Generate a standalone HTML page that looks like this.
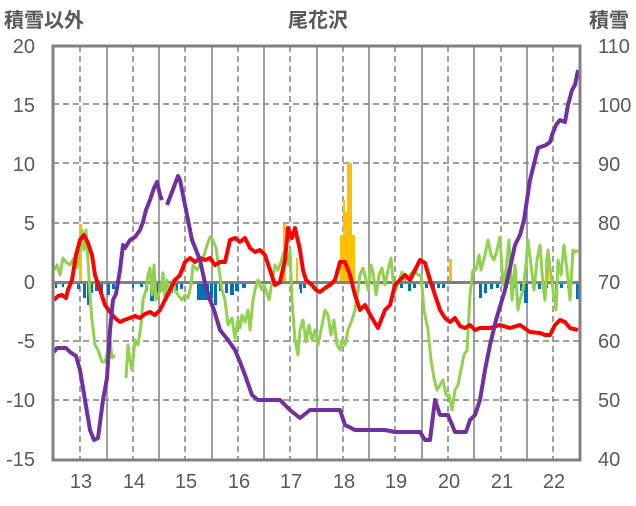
<!DOCTYPE html>
<html><head><meta charset="utf-8"><style>
html,body{margin:0;padding:0;background:#fff;}
svg text{font-family:"Liberation Sans","Noto Sans CJK JP",sans-serif;fill:#595959;}
</style></head><body>
<svg width="636" height="501" viewBox="0 0 636 501" xmlns="http://www.w3.org/2000/svg">
<rect width="636" height="501" fill="#fff"/>
<g stroke="#808080" stroke-width="1.5" stroke-dasharray="6,4">
<line x1="53" x2="580" y1="104" y2="104"/><line x1="53" x2="580" y1="163" y2="163"/><line x1="53" x2="580" y1="223" y2="223"/>
<line x1="53" x2="580" y1="341" y2="341"/><line x1="53" x2="580" y1="400" y2="400"/>
<line x1="80" x2="80" y1="46" y2="460"/><line x1="133" x2="133" y1="46" y2="460"/><line x1="185" x2="185" y1="46" y2="460"/><line x1="238" x2="238" y1="46" y2="460"/><line x1="290" x2="290" y1="46" y2="460"/><line x1="343" x2="343" y1="46" y2="460"/><line x1="395" x2="395" y1="46" y2="460"/><line x1="448" x2="448" y1="46" y2="460"/><line x1="501" x2="501" y1="46" y2="460"/><line x1="553" x2="553" y1="46" y2="460"/>
</g>
<g stroke="#808080" stroke-width="1.5">
<line x1="107" x2="107" y1="46" y2="460"/><line x1="159" x2="159" y1="46" y2="460"/><line x1="212" x2="212" y1="46" y2="460"/><line x1="264" x2="264" y1="46" y2="460"/><line x1="317" x2="317" y1="46" y2="460"/><line x1="369" x2="369" y1="46" y2="460"/><line x1="422" x2="422" y1="46" y2="460"/><line x1="474" x2="474" y1="46" y2="460"/><line x1="527" x2="527" y1="46" y2="460"/>
</g>
<g fill="#0070c0">
<rect x="55" y="283" width="2" height="5"/><rect x="62" y="283" width="2" height="4"/><rect x="77" y="283" width="3" height="6"/><rect x="83" y="283" width="3" height="15"/><rect x="87" y="283" width="2" height="22"/><rect x="91" y="283" width="2" height="10"/><rect x="95" y="283" width="3" height="8"/><rect x="100" y="283" width="3" height="9"/><rect x="107" y="283" width="3" height="12"/><rect x="112" y="283" width="3" height="6"/><rect x="117" y="283" width="2" height="5"/><rect x="132" y="283" width="2" height="5"/><rect x="140" y="283" width="3" height="4"/><rect x="145" y="283" width="3" height="8"/><rect x="150" y="283" width="4" height="18"/><rect x="155" y="283" width="3" height="12"/><rect x="160" y="283" width="3" height="8"/><rect x="170" y="283" width="3" height="10"/><rect x="175" y="283" width="3" height="8"/><rect x="180" y="283" width="3" height="6"/><rect x="197" y="283" width="12" height="17"/><rect x="210" y="283" width="3" height="15"/><rect x="214" y="283" width="3" height="22"/><rect x="219" y="283" width="3" height="8"/><rect x="225" y="283" width="3" height="10"/><rect x="230" y="283" width="4" height="12"/><rect x="235" y="283" width="4" height="8"/><rect x="242" y="283" width="4" height="5"/><rect x="299" y="283" width="3" height="6"/><rect x="303" y="283" width="3" height="5"/><rect x="300" y="283" width="2" height="10"/><rect x="400" y="283" width="3" height="5"/><rect x="408" y="283" width="3" height="8"/><rect x="413" y="283" width="3" height="5"/><rect x="425" y="283" width="3" height="5"/><rect x="432" y="283" width="3" height="5"/><rect x="437" y="283" width="3" height="5"/><rect x="442" y="283" width="3" height="5"/><rect x="479" y="283" width="3" height="15"/><rect x="484" y="283" width="3" height="10"/><rect x="490" y="283" width="3" height="6"/><rect x="496" y="283" width="3" height="5"/><rect x="505" y="283" width="3" height="5"/><rect x="512" y="283" width="3" height="5"/><rect x="520" y="283" width="3" height="8"/><rect x="525" y="283" width="3" height="5"/><rect x="532" y="283" width="3" height="5"/><rect x="538" y="283" width="3" height="6"/><rect x="524" y="283" width="4" height="20"/><rect x="545" y="283" width="3" height="5"/><rect x="555" y="283" width="3" height="8"/><rect x="560" y="283" width="3" height="5"/><rect x="567" y="283" width="3" height="5"/><rect x="576" y="283" width="3" height="16"/>
</g>
<g fill="#ffc000">
<rect x="79" y="224" width="3" height="58"/><rect x="283" y="224" width="3" height="58"/><rect x="296" y="258" width="2" height="24"/><rect x="340" y="235" width="3" height="47"/><rect x="343" y="200" width="2" height="82"/><rect x="345" y="212" width="2" height="70"/><rect x="347" y="163" width="3" height="119"/><rect x="350" y="163" width="2" height="119"/><rect x="352" y="235" width="3" height="47"/><rect x="449" y="259" width="3" height="23"/><rect x="545" y="258" width="4" height="24"/>
</g>
<line x1="53" x2="580" y1="282.5" y2="282.5" stroke="#808080" stroke-width="3"/>
<g fill="none" stroke-width="4" stroke-linejoin="round">
<polyline stroke="#92d050" stroke-width="3" points="54,270 57,265 60,275 63,258 66,262 70,265 74,258 77,268 79,255 82,230 84,250 86,230 88,260 90,295 92,320 95,345 98,350 102,362 105,362 108,350 110,340 112,358 115,355"/>
<polyline stroke="#92d050" stroke-width="3" points="126,378 128,345 130,360 132,370 135,340 138,345 141,325 143,300 146,290 148,275 150,268 152,295 154,265 156,300 158,295 161,290 163,273 165,300 167,280 170,295 173,280 175,290 178,295 182,300 185,295 188,298 191,285 193,265 197,270 200,265 204,255 207,245 210,237 213,240 216,248 218,262 222,290 225,300 228,325 232,318 235,338 238,320 240,328 242,315 245,322 248,310 250,330 253,300 255,290 258,280 260,285 262,290 264,285 266,290 269,300 272,282 275,265 278,270 281,262 283,255 285,250 288,265 290,250 292,300 295,340 298,355 300,330 303,320 306,342 309,325 312,340 315,330 318,345 321,330 325,310 328,315 331,335 334,320 337,345 340,350 342,340 345,345 348,330 352,320 355,310 358,290 360,275 363,268 366,280 368,290 371,265 373,272 376,295 379,275 382,268 385,285 388,270 391,258 394,290 396,290 399,280 402,272 405,280 410,275 414,270 418,275 421,275 424,310 428,330 431,360 434,378 437,390 440,385 443,380 446,395 449,395 452,410 455,390 458,385 461,370 464,355 467,350 470,295 473,270 476,270 479,255 481,270 485,255 488,240 491,255 494,260 497,250 500,237 503,285 506,270 509,240 512,300 515,265 518,310 520,300 523,290 526,265 528,240 531,265 534,290 537,260 540,245 543,285 545,300 548,250 550,268 553,290 556,310 558,260 561,275 564,245 567,270 570,300 573,250 576,252 578,250"/>
<polyline stroke="#ff0000" points="54,300 58,296 62,295 66,298 68,290 72,280 76,255 80,240 84,235 88,243 92,255 95,275 100,290 105,305 110,312 115,318 120,322 124,320 130,318 135,316 140,318 145,314 150,312 155,315 160,310 165,300 170,290 175,280 180,275 185,262 190,258 195,262 200,258 205,260 210,258 215,265 220,262 225,262 230,240 235,238 240,242 245,238 250,248 255,252 260,250 265,255 270,270 275,285 280,282 285,260 288,228 292,238 295,228 300,250 303,270 306,280 312,285 316,290 320,292 325,288 330,285 335,280 340,262 345,262 350,275 355,295 360,310 365,305 372,318 378,328 385,310 390,305 395,285 400,280 405,275 410,280 415,270 420,260 425,263 430,280 435,295 440,310 445,318 450,322 455,318 460,326 465,328 470,325 475,330 480,328 490,328 500,325 510,328 520,325 530,332 540,333 545,335 550,335 555,325 560,320 565,322 570,328 578,330"/>
<polyline stroke="#7030a0" points="54,352 57,348 66,348 70,352 76,356 80,370 85,400 90,430 94,440 98,438 103,400 107,378 110,330 113,300 116,294 120,270 123,245 125,248 130,240 135,237 140,230 143,222 146,210 150,200 154,188 157,182 160,195 162,200"/>
<polyline stroke="#7030a0" points="167,205 172,192 178,176 180,180 184,200 188,220 192,240 196,250 200,260 205,283 210,300 214,310 220,330 228,340 235,350 240,362 245,375 252,395 258,400 265,400 280,400 285,405 290,410 300,418 305,414 310,410 320,410 335,410 340,410 345,425 355,430 385,430 395,432 420,432 425,440 430,440 435,400 440,415 448,415 455,432 460,432 466,432 470,420 475,415 480,400 485,370 490,345 496,320 505,290 510,268 515,245 520,235 524,220 527,200 530,180 535,160 538,148 546,145 550,142 552,135 556,125 560,120 565,122 568,105 572,90 575,85 578,70"/>
</g>
<rect x="53" y="46" width="527" height="414" fill="none" stroke="#808080" stroke-width="3"/>
<g font-size="20" text-anchor="end">
<text x="35" y="53">20</text><text x="35" y="112">15</text><text x="35" y="171">10</text><text x="35" y="230">5</text><text x="35" y="289">0</text><text x="35" y="348">-5</text><text x="35" y="407">-10</text><text x="35" y="466">-15</text>
</g>
<g font-size="20" text-anchor="start">
<text x="598" y="53">110</text><text x="598" y="112">100</text><text x="598" y="171">90</text><text x="598" y="230">80</text><text x="598" y="289">70</text><text x="598" y="348">60</text><text x="598" y="407">50</text><text x="598" y="466">40</text>
</g>
<g font-size="20" text-anchor="middle">
<text x="81" y="488">13</text><text x="134" y="488">14</text><text x="186" y="488">15</text><text x="239" y="488">16</text><text x="291" y="488">17</text><text x="344" y="488">18</text><text x="396" y="488">19</text><text x="449" y="488">20</text><text x="502" y="488">21</text><text x="554" y="488">22</text>
</g>
<text x="4" y="27" font-size="20" font-weight="bold">積雪以外</text>
<text x="318" y="27" font-size="20" text-anchor="middle" font-weight="bold">尾花沢</text>
<text x="589" y="27" font-size="20" font-weight="bold">積雪</text>
</svg>
</body></html>
